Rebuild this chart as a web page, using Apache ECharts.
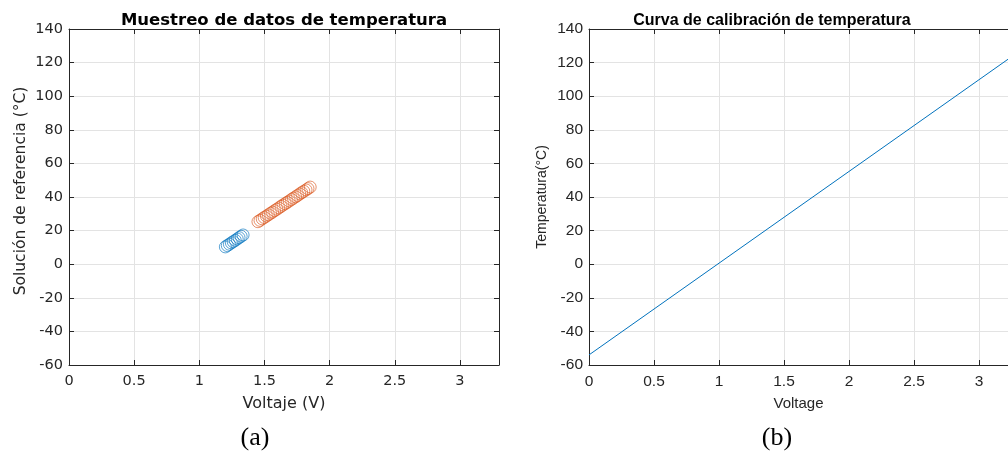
<!DOCTYPE html>
<html>
<head>
<meta charset="utf-8">
<script src="https://cdn.jsdelivr.net/npm/echarts@6/dist/echarts.min.js"></script>
<style>
  html, body { margin: 0; padding: 0; background: #fff; }
  #chart { width: 1008px; height: 455px; }
</style>
</head>
<body>
<div id="chart"></div>
<script>
// Sample set 1 (low range): voltage (V) and reference temperature (°C)
const lowVoltage = [1.200, 1.215, 1.231, 1.246, 1.260, 1.276, 1.291, 1.305, 1.321, 1.336];
const lowTemp    = [10.3, 11.1, 11.9, 12.7, 13.4, 14.2, 15.0, 15.8, 16.6, 17.4];

// Sample set 2 (higher range)
const highVoltage = [1.450, 1.466, 1.483, 1.498, 1.515, 1.530, 1.547, 1.562, 1.578, 1.595,
                     1.610, 1.627, 1.642, 1.659, 1.674, 1.690, 1.707, 1.722, 1.739, 1.754,
                     1.771, 1.786, 1.802, 1.819, 1.834, 1.851];
const highTemp    = [25.3, 26.1, 27.0, 27.8, 28.6, 29.4, 30.3, 31.0, 31.9, 32.7,
                     33.5, 34.4, 35.2, 36.0, 36.8, 37.6, 38.5, 39.3, 40.1, 40.9,
                     41.8, 42.6, 43.4, 44.2, 45.0, 45.9];

// Calibration line end points (voltage, temperature)
const calVoltage = [0, 3.3];
const calTemp    = [-54.0, 126.2];

// Axis ranges; the calibration panel is cut at the right page edge
const xRangeA = { min: 0, max: 3.3, interval: 0.5 };
const xRangeB = { min: 0, max: 3.223, interval: 0.5 };
const yRange  = { min: -60, max: 140, interval: 20 };

const pair = (xs, ys) => xs.map((x, i) => [x, ys[i]]);

const axisColor = '#262626';
const gridColor = '#e3e3e3';

function mainX(gridIndex, range, font, labelSize, nameSize, name) {
  return {
    type: 'value', gridIndex, position: 'bottom',
    min: range.min, max: range.max, interval: range.interval,
    name, nameLocation: 'middle', nameGap: 31,
    nameTextStyle: { color: axisColor, fontFamily: font, fontSize: nameSize },
    axisLine: { show: true, onZero: false, lineStyle: { color: axisColor, width: 1 } },
    axisTick: { show: true, inside: true, length: 5, lineStyle: { color: axisColor } },
    axisLabel: { color: axisColor, fontFamily: font, fontSize: labelSize, margin: 9, showMaxLabel: false },
    splitLine: { show: true, lineStyle: { color: gridColor, width: 1 } }
  };
}
function boxX(gridIndex, range) {
  return {
    type: 'value', gridIndex, position: 'top',
    min: range.min, max: range.max, interval: range.interval,
    axisLine: { show: true, onZero: false, lineStyle: { color: axisColor, width: 1 } },
    axisTick: { show: true, inside: true, length: 5, lineStyle: { color: axisColor } },
    axisLabel: { show: false }, splitLine: { show: false }
  };
}
function mainY(gridIndex, font, labelSize, nameSize, name, gap) {
  return {
    type: 'value', gridIndex, position: 'left',
    min: yRange.min, max: yRange.max, interval: yRange.interval,
    name, nameLocation: 'middle', nameGap: gap,
    nameTextStyle: { color: axisColor, fontFamily: font, fontSize: nameSize },
    axisLine: { show: true, onZero: false, lineStyle: { color: axisColor, width: 1 } },
    axisTick: { show: true, inside: true, length: 5, lineStyle: { color: axisColor } },
    axisLabel: { color: axisColor, fontFamily: font, fontSize: labelSize, margin: 6 },
    splitLine: { show: true, lineStyle: { color: gridColor, width: 1 } }
  };
}
function boxY(gridIndex, visible) {
  return {
    type: 'value', gridIndex, position: 'right', show: visible,
    min: yRange.min, max: yRange.max, interval: yRange.interval,
    axisLine: { show: true, onZero: false, lineStyle: { color: axisColor, width: 1 } },
    axisTick: { show: true, inside: true, length: 5, lineStyle: { color: axisColor } },
    axisLabel: { show: false }, splitLine: { show: false }
  };
}

const chart = echarts.init(document.getElementById('chart'), null, { renderer: 'canvas' });

chart.setOption({
  animation: false,
  backgroundColor: '#ffffff',
  title: [
    { text: 'Muestreo de datos de temperatura', left: 279, top: 7, textAlign: 'center',
      textStyle: { fontFamily: 'DejaVu Sans', fontWeight: 'bold', fontSize: 16.5, color: '#000' } },
    { text: 'Curva de calibración de temperatura', left: 767, top: 8, textAlign: 'center',
      textStyle: { fontFamily: 'Liberation Sans', fontWeight: 'bold', fontSize: 16, color: '#000' } }
  ],
  graphic: [
    { type: 'text', x: 21, y: 191, rotation: Math.PI / 2,
      style: { text: 'Solución de referencia (°C)', x: 0, y: 0, align: 'center', verticalAlign: 'middle',
        font: '15.5px "DejaVu Sans"', fill: axisColor } },
    { type: 'text', x: 255, y: 438, style: { text: '(a)', x: 0, y: 0, align: 'center', verticalAlign: 'middle',
      font: '26px "Liberation Serif", "DejaVu Serif", serif', fill: '#000' } },
    { type: 'text', x: 777, y: 438, style: { text: '(b)', x: 0, y: 0, align: 'center', verticalAlign: 'middle',
      font: '26px "Liberation Serif", "DejaVu Serif", serif', fill: '#000' } }
  ],
  grid: [
    { left: 69, top: 29, right: 509, bottom: 90, containLabel: false },
    { left: 589, top: 29, right: 0, bottom: 90, containLabel: false }
  ],
  xAxis: [
    mainX(0, xRangeA, 'DejaVu Sans', 14.5, 16, 'Voltaje (V)'), boxX(0, xRangeA),
    mainX(1, xRangeB, 'Liberation Sans', 15.5, 15, 'Voltage'), boxX(1, xRangeB)
  ],
  yAxis: [
    mainY(0, 'DejaVu Sans', 14.5, 16, '', 40), boxY(0, true),
    mainY(1, 'Liberation Sans', 15.5, 14, 'Temperatura(°C)', 40), boxY(1, false)
  ],
  series: [
    { type: 'scatter', xAxisIndex: 0, yAxisIndex: 0, data: pair(lowVoltage, lowTemp),
      symbol: 'circle', symbolSize: 12,
      itemStyle: { color: 'rgba(0,0,0,0)', borderColor: '#0072BD', borderWidth: 0.8 } },
    { type: 'scatter', xAxisIndex: 0, yAxisIndex: 0, data: pair(highVoltage, highTemp),
      symbol: 'circle', symbolSize: 12,
      itemStyle: { color: 'rgba(0,0,0,0)', borderColor: '#D95319', borderWidth: 0.8 } },
    { type: 'line', xAxisIndex: 2, yAxisIndex: 2, data: pair(calVoltage, calTemp),
      showSymbol: false, clip: true,
      lineStyle: { color: '#0072BD', width: 1 } }
  ]
});
</script>
</body>
</html>
